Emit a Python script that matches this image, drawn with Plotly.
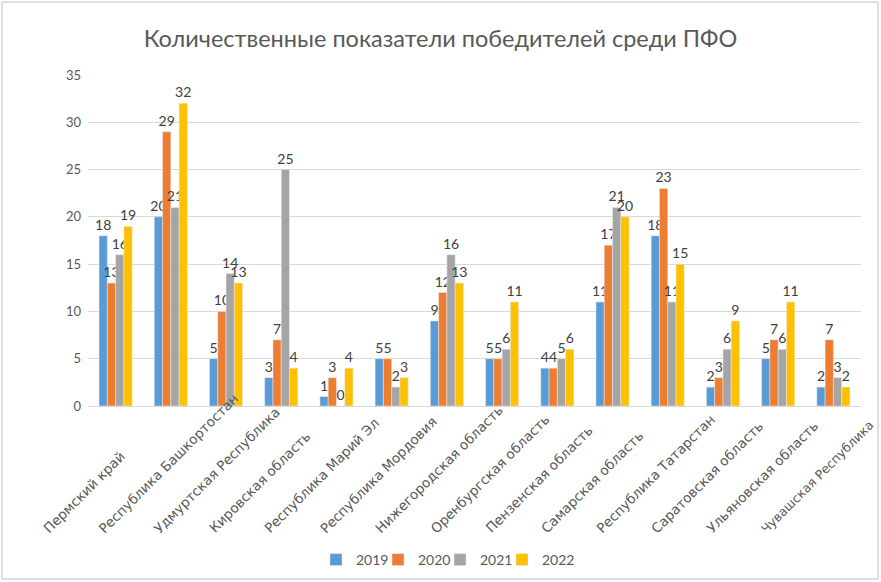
import plotly.graph_objects as go

categories = ["Пермский край", "Республика Башкортостан", "Удмуртская Республика",
              "Кировская область", "Республика Марий Эл", "Республика Мордовия",
              "Нижегородская область", "Оренбургская область", "Пензенская область",
              "Самарская область", "Республика Татарстан", "Саратовская область",
              "Ульяновская область", "Чувашская Республика"]
v2019 = [18, 20, 5, 3, 1, 5, 9, 5, 4, 11, 18, 2, 5, 2]
v2020 = [13, 29, 10, 7, 3, 5, 12, 5, 4, 17, 23, 3, 7, 7]
v2021 = [16, 21, 14, 25, 0, 2, 16, 6, 5, 21, 11, 6, 6, 3]
v2022 = [19, 32, 13, 4, 4, 3, 13, 11, 6, 20, 15, 9, 11, 2]
series = [("2019", v2019, "#5B9BD5"), ("2020", v2020, "#ED7D31"),
          ("2021", v2021, "#A5A5A5"), ("2022", v2022, "#FFC000")]
yticks = [0, 5, 10, 15, 20, 25, 30, 35]

W, H = 881, 582
L, R, T, B = 88, 20, 75, 176
pw, ph = W - L - R, H - T - B

fig = go.Figure()
legend_ids = ["legend", "legend2", "legend3", "legend4"]
for (name, vals, col), lg in zip(series, legend_ids):
    fig.add_trace(go.Bar(
        x=categories, y=vals, name=name, marker_color=col, legend=lg,
        showlegend=True,
        text=[str(v) for v in vals], textposition="outside",
        constraintext="none",
        textfont=dict(size=14, color="#404040"), cliponaxis=False,
    ))

# one legend box per year so the entries can sit as close as in the original
legend_y = -(560 - T - ph) / ph
legend_boxes = {}
for i, lg in enumerate(legend_ids):
    left_px = 316 + 62 * i
    legend_boxes[lg] = dict(orientation="h", x=(left_px - L) / pw, xanchor="left",
                            y=legend_y, yanchor="middle", itemwidth=30,
                            font=dict(size=14, color="#595959"),
                            bgcolor="rgba(0,0,0,0)")

# category labels, rotated 45°, anchored at their lower-left end like the original
annotations = []
for i, c in enumerate(categories):
    size = 12.5 if i == len(categories) - 1 else 13.5
    annotations.append(dict(x=c, xref="x", y=0, yref="paper", text=c, showarrow=False,
                            textangle=-45, xanchor="left", yanchor="bottom",
                            xshift=-78, yshift=-133,
                            font=dict(family="DejaVu Sans", size=size, color="#595959")))

fig.update_layout(
    width=W, height=H,
    showlegend=True,
    margin=dict(l=L, r=R, t=T, b=B, autoexpand=False),
    paper_bgcolor="white", plot_bgcolor="white",
    font=dict(family="Lato, Open Sans, sans-serif", color="#595959"),
    title=dict(text="Количественные показатели победителей среди ПФО",
               x=0.5, xanchor="center", y=1 - 39 / H, yanchor="middle",
               font=dict(size=23.5, color="#595959")),
    barmode="group", bargap=0.4, bargroupgap=0,
    xaxis=dict(showticklabels=False, showline=True, linecolor="#D9D9D9",
               ticks="", automargin=False, range=[-0.5, len(categories) - 0.5],
               autorange=False),
    yaxis=dict(range=[0, 35], tickvals=yticks, showgrid=True, gridcolor="#D9D9D9",
               zeroline=False, tickfont=dict(size=13, color="#595959"), ticks="",
               ticklabelstandoff=6, automargin=False, autorange=False),
    annotations=annotations,
    shapes=[dict(type="rect", xref="paper", yref="paper",
                 x0=(2 - L) / pw, x1=(W - 3 - L) / pw,
                 y0=-(H - 3 - T - ph) / ph, y1=1 + (T - 2) / ph,
                 line=dict(color="#BFBFBF", width=1))],
    **legend_boxes,
)

fig.write_html("out.html", config={"displayModeBar": False},
               post_script="document.body.style.margin='0';")
